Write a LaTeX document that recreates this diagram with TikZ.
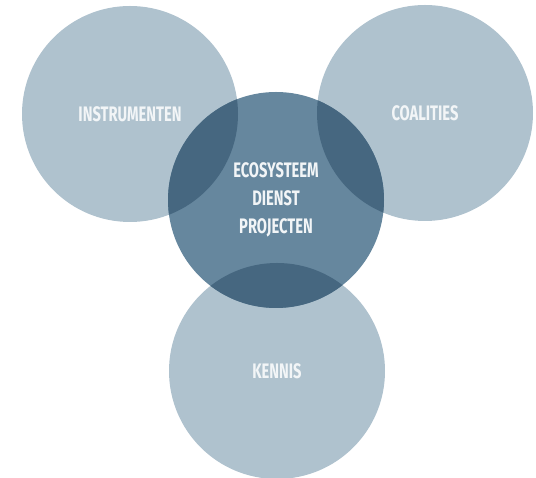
\documentclass[tikz,border=0pt]{standalone}
\usepackage{fontspec}
\setmainfont[FakeStretch=0.70]{Fira Sans}
\usetikzlibrary{positioning}

\definecolor{lightblue}{RGB}{175,194,206}
\definecolor{midblue}{RGB}{102,135,158}
\definecolor{darkblue}{RGB}{70,103,128}
\definecolor{labelwhite}{RGB}{242,245,247}

\begin{document}
\begin{tikzpicture}[x=1pt,y=1pt,
                    ring/.style={circle,minimum size=216pt,inner sep=0pt,
                                 text=labelwhite,font=\bfseries\fontsize{21}{28}\selectfont,
                                 align=center}]
          \tikzstyle{outer}=[ring,fill=lightblue]
          \tikzstyle{inner}=[ring,fill=midblue]

          \useasboundingbox (0,0) rectangle (536,478);

          \node[outer] (I) at (130,364) {INSTRUMENTEN};
          \node[outer] (C) at (425,365) {COALITIES};
          \node[outer] (K) at (277,107) {\raisebox{-6pt}{KENNIS}};
          \node[inner] (E) at (276,278) {};

          % overlap of the middle circle with the other three
          \begin{scope}
            \clip (E.center) circle (108pt);
            \fill[darkblue] (I.center) circle (108pt)
                            (C.center) circle (108pt)
                            (K.center) circle (108pt);
          \end{scope}

          \node[ring] (Etxt) at (E.center) {ECOSYSTEEM\\DIENST\\PROJECTEN};
\end{tikzpicture}
\end{document}
